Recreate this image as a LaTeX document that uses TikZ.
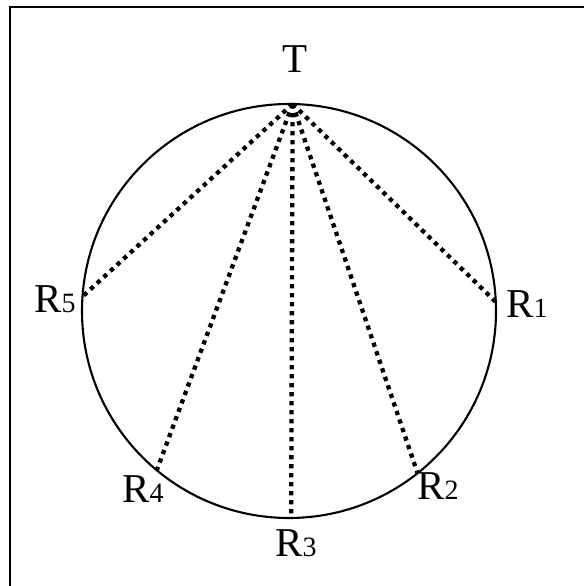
\documentclass[tikz,border=0pt]{standalone}
\usepackage{fontspec}
\setmainfont{Liberation Serif}
\usetikzlibrary{calc}
\begin{document}
\begin{tikzpicture}[x=1pt,y=1pt,
  lbl/.style={anchor=base,inner sep=0pt,font=\fontsize{41}{44}\selectfont},
  ray/.style={line width=4.3pt,dash pattern=on 4.3pt off 4.7pt},
  rim/.style={line width=2.1pt}]
\useasboundingbox (0,0) rectangle (584,586);
\draw[line width=2.2pt] (10,0) -- (10,579) -- (584,579);
\coordinate (C) at (289,275);
\draw[rim] (C) circle (207);
\coordinate (T) at ($(C)+(89:207)$);
\coordinate (P1) at ($(C)+(2.5:207)$);
\coordinate (P2) at ($(C)+(-51.6:207)$);
\coordinate (P3) at ($(C)+(-89.4:207)$);
\coordinate (P4) at ($(C)+(-129.7:207)$);
\coordinate (P5) at ($(C)+(176:207)$);
\foreach \p in {P1,P2,P3,P4,P5} \draw[ray] (T) -- (\p);
\node[lbl] (lT) at (295,513) {T};
\node[lbl] (l1) at (527,268) {R{\fontsize{28}{30}\selectfont 1}};
\node[lbl] (l2) at (438,86) {R{\fontsize{28}{30}\selectfont 2}};
\node[lbl] (l3) at (296,29) {R{\fontsize{28}{30}\selectfont 3}};
\node[lbl] (l4) at (143,83) {R{\fontsize{28}{30}\selectfont 4}};
\node[lbl] (l5) at (55,273) {R{\fontsize{28}{30}\selectfont 5}};
\end{tikzpicture}
\end{document}
